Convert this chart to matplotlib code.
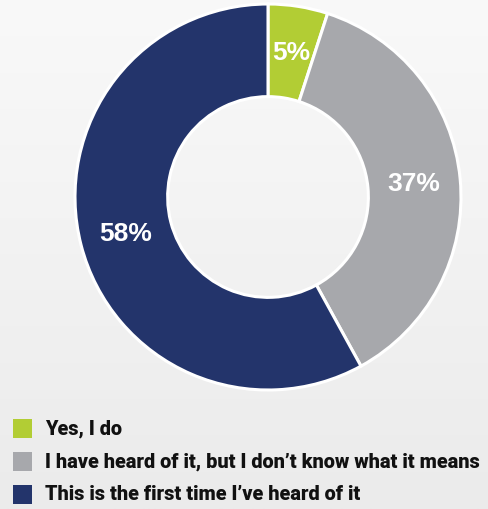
import matplotlib
matplotlib.use("Agg")
import matplotlib.pyplot as plt
import numpy as np
from matplotlib.patches import Rectangle

# data
labels = ["Yes, I do",
          "I have heard of it, but I don\u2019t know what it means",
          "This is the first time I\u2019ve heard of it"]
values = [5, 37, 58]
colors = ["#b2cd34", "#a7a8ac", "#23346b"]

plt.rcParams["font.family"] = ["Roboto", "DejaVu Sans"]

W, H = 489, 510
fig = plt.figure(figsize=(W / 100, H / 100), dpi=100)

# soft grey background gradient
bg = fig.add_axes([0, 0, 1, 1])
grad = np.linspace(0, 1, 256).reshape(-1, 1)
bg.imshow(grad, aspect="auto", cmap=plt.matplotlib.colors.LinearSegmentedColormap.from_list(
    "bg", ["#f9f9f9", "#ebebeb"]), extent=[0, 1, 0, 1], origin="upper")
bg.axis("off")

# donut
cx, cy, r = 268, 198, 193
ax = fig.add_axes([(cx - r) / W, (H - cy - r) / H, 2 * r / W, 2 * r / H])
wedges, _ = ax.pie(values, colors=colors, startangle=90, counterclock=False,
                   radius=1.0, wedgeprops=dict(width=0.48, edgecolor="white", linewidth=2.2))
ax.set_xlim(-1, 1)
ax.set_ylim(-1, 1)
ax.set_aspect("equal")
ax.axis("off")

# percentage labels in the middle of the ring
start = 90
for v, w in zip(values, wedges):
    mid = np.deg2rad(start - v * 3.6 / 2)
    start -= v * 3.6
    rr = 0.76
    ax.text(rr * np.cos(mid), rr * np.sin(mid), f"{v}%", color="white",
            fontsize=19, fontweight="bold", ha="center", va="center",
            family=["Liberation Sans", "DejaVu Sans"])

# legend
y0 = 429
for i, (lab, col) in enumerate(zip(labels, colors)):
    y = y0 + i * 33
    fig.patches.append(Rectangle((13 / W, 1 - (y + 9.5) / H), 19 / W, 19 / H,
                                 transform=fig.transFigure, facecolor=col, edgecolor="none"))
    fig.text(45 / W, 1 - y / H, lab, fontsize=14.3, fontweight=900,
             color="#111111", ha="left", va="center")

fig.savefig("out.png", dpi=100, facecolor="#f4f4f4")
